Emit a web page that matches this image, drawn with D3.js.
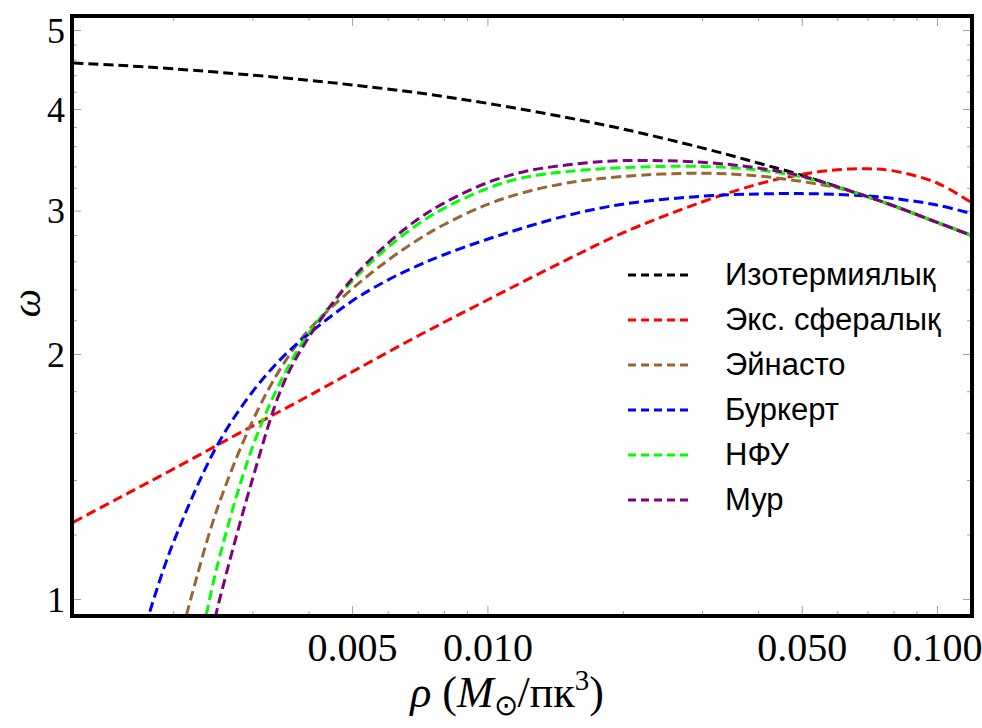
<!DOCTYPE html>
<html>
<head>
<meta charset="utf-8">
<script src="https://cdn.jsdelivr.net/npm/d3@7"></script>
<style>
  body { margin: 0; background: #fff; }
  svg { display: block; }
</style>
</head>
<body>
<div id="chart"></div>
<script>
// Rotation-curve style plot: omega vs rho, log-log, six density profiles

// --- data ---
const rhoIso   = [0.0012, 0.0015, 0.002, 0.003, 0.004, 0.005, 0.007, 0.01, 0.015, 0.02, 0.03, 0.04, 0.05, 0.06, 0.07, 0.08, 0.1, 0.12];
const omegaIso = [4.556, 4.527, 4.481, 4.402, 4.337, 4.281, 4.187, 4.064, 3.904, 3.780, 3.583, 3.433, 3.316, 3.210, 3.121, 3.042, 2.902, 2.793];

const rhoExp   = [0.0012, 0.0015, 0.002, 0.003, 0.004, 0.005, 0.007, 0.01, 0.015, 0.02, 0.03, 0.04, 0.05, 0.06, 0.07, 0.08, 0.1, 0.12];
const omegaExp = [1.243, 1.327, 1.444, 1.631, 1.776, 1.901, 2.104, 2.33, 2.61, 2.817, 3.074, 3.234, 3.324, 3.368, 3.377, 3.357, 3.244, 3.062];

const rhoEin   = [0.0021, 0.0022, 0.0025, 0.003, 0.0035, 0.004, 0.005, 0.006, 0.007, 0.008, 0.01, 0.012, 0.015, 0.02, 0.03, 0.04, 0.05, 0.06, 0.07, 0.08, 0.1, 0.12];
const omegaEin = [0.917, 1.011, 1.286, 1.653, 1.936, 2.139, 2.404, 2.606, 2.762, 2.883, 3.053, 3.156, 3.243, 3.305, 3.335, 3.309, 3.258, 3.200, 3.121, 3.042, 2.902, 2.793];

const rhoBur   = [0.0017, 0.0018, 0.002, 0.0025, 0.003, 0.0035, 0.004, 0.005, 0.006, 0.007, 0.008, 0.01, 0.015, 0.02, 0.03, 0.04, 0.05, 0.06, 0.07, 0.08, 0.1, 0.12];
const omegaBur = [0.889, 0.990, 1.172, 1.541, 1.796, 1.981, 2.116, 2.323, 2.465, 2.568, 2.648, 2.767, 2.958, 3.055, 3.125, 3.145, 3.148, 3.141, 3.127, 3.105, 3.048, 2.972];

const rhoNfw   = [0.0023, 0.0025, 0.003, 0.0035, 0.004, 0.005, 0.006, 0.007, 0.008, 0.01, 0.012, 0.015, 0.02, 0.03, 0.04, 0.05, 0.06, 0.07, 0.08, 0.1, 0.12];
const omegaNfw = [0.880, 1.092, 1.536, 1.869, 2.119, 2.457, 2.703, 2.886, 3.019, 3.195, 3.293, 3.350, 3.388, 3.400, 3.365, 3.300, 3.205, 3.121, 3.042, 2.902, 2.793];

const rhoMoore   = [0.0024, 0.0025, 0.003, 0.0035, 0.004, 0.005, 0.006, 0.007, 0.008, 0.01, 0.012, 0.015, 0.02, 0.03, 0.04, 0.05, 0.06, 0.07, 0.08, 0.1, 0.12];
const omegaMoore = [0.873, 0.967, 1.402, 1.827, 2.094, 2.474, 2.735, 2.928, 3.065, 3.247, 3.347, 3.414, 3.456, 3.440, 3.384, 3.309, 3.210, 3.121, 3.042, 2.902, 2.793];

const seriesNames = ['Изотермиялық', 'Экс. сфералық', 'Эйнасто', 'Буркерт', 'НФУ', 'Мур'];
const seriesColors = ['#000000', '#ff0000', '#996633', '#0000ff', '#00ff00', '#800080'];

const xMajor = [0.005, 0.01, 0.05, 0.1];
const xMinor = [0.002, 0.003, 0.004, 0.006, 0.007, 0.008, 0.009, 0.02, 0.03, 0.04, 0.06, 0.07, 0.08, 0.09];
const yMajor = [1, 2, 3, 4, 5];
const yMinor = [1.2, 1.4, 1.6, 1.8, 2.2, 2.4, 2.6, 2.8, 3.2, 3.4, 3.6, 3.8, 4.2, 4.4, 4.6, 4.8];

const series = [
    { rho: rhoIso, omega: omegaIso },
    { rho: rhoExp, omega: omegaExp },
    { rho: rhoEin, omega: omegaEin },
    { rho: rhoBur, omega: omegaBur },
    { rho: rhoNfw, omega: omegaNfw },
    { rho: rhoMoore, omega: omegaMoore }
].map((s, i) => ({
    name: seriesNames[i],
    color: seriesColors[i],
    points: s.rho.map((r, j) => ({ rho: r, omega: s.omega[j] }))
}));

// --- layout ---
const W = 982, H = 728;
const m = { left: 72, right: 972, top: 16, bottom: 616 };

const x = d3.scaleLog().domain([0.001191, 0.1196]).range([m.left, m.right]);
const y = d3.scaleLog().domain([0.953, 5.203]).range([m.bottom, m.top]);

const svg = d3.select('#chart').append('svg')
    .attr('width', W)
    .attr('height', H);

svg.append('defs').append('clipPath').attr('id', 'plot-clip')
    .append('rect')
    .attr('x', m.left).attr('y', m.top)
    .attr('width', m.right - m.left).attr('height', m.bottom - m.top);

const serif = '"Liberation Serif", "Times New Roman", serif';
const sans = '"Liberation Sans", Arial, sans-serif';

// ticks: inward, gray, mirrored on all four sides
function tickAxis(axis, g) {
    g.call(axis);
    g.select('.domain').remove();
    g.selectAll('.tick line').attr('stroke', '#a0a0a0').attr('stroke-width', 1);
    return g;
}

tickAxis(d3.axisBottom(x).tickValues(xMinor).tickSize(-5).tickFormat(''),
    svg.append('g').attr('transform', `translate(0,${m.bottom})`));
tickAxis(d3.axisTop(x).tickValues(xMinor).tickSize(-5).tickFormat(''),
    svg.append('g').attr('transform', `translate(0,${m.top})`));
tickAxis(d3.axisTop(x).tickValues(xMajor).tickSize(-10).tickFormat(''),
    svg.append('g').attr('transform', `translate(0,${m.top})`));
tickAxis(d3.axisLeft(y).tickValues(yMinor).tickSize(-5).tickFormat(''),
    svg.append('g').attr('transform', `translate(${m.left},0)`));
tickAxis(d3.axisRight(y).tickValues(yMinor).tickSize(-5).tickFormat(''),
    svg.append('g').attr('transform', `translate(${m.right},0)`));
tickAxis(d3.axisRight(y).tickValues(yMajor).tickSize(-9).tickFormat(''),
    svg.append('g').attr('transform', `translate(${m.right},0)`));

const xAxisG = tickAxis(d3.axisBottom(x).tickValues(xMajor).tickSize(-10).tickFormat(d3.format('.3f')),
    svg.append('g').attr('transform', `translate(0,${m.bottom})`));
xAxisG.selectAll('.tick text')
    .attr('y', 45).attr('dy', 0)
    .attr('fill', '#000')
    .style('font-family', serif)
    .style('font-size', '40px');

const yAxisG = tickAxis(d3.axisLeft(y).tickValues(yMajor).tickSize(-9).tickFormat(d3.format('d')),
    svg.append('g').attr('transform', `translate(${m.left},0)`));
yAxisG.selectAll('.tick text')
    .attr('x', -7).attr('dy', '0.34em')
    .attr('fill', '#000')
    .style('font-family', serif)
    .style('font-size', '36px');

// curves
const line = d3.line()
    .x(d => x(d.rho))
    .y(d => y(d.omega))
    .curve(d3.curveCatmullRom.alpha(0.5));

svg.append('g').attr('clip-path', 'url(#plot-clip)')
    .selectAll('path')
    .data(series)
    .join('path')
    .attr('d', d => line(d.points))
    .attr('fill', 'none')
    .attr('stroke', d => d.color)
    .attr('stroke-width', 3)
    .attr('stroke-dasharray', '10,5');

// frame
svg.append('rect')
    .attr('x', m.left).attr('y', m.top)
    .attr('width', m.right - m.left).attr('height', m.bottom - m.top)
    .attr('fill', 'none')
    .attr('stroke', '#000')
    .attr('stroke-width', 4);

// legend
const legend = svg.append('g').attr('transform', 'translate(0,285)');
const row = legend.selectAll('g')
    .data(series)
    .join('g')
    .attr('transform', (d, i) => `translate(0,${i * 45})`);

row.append('line')
    .attr('x1', 628).attr('x2', 692)
    .attr('y1', -10).attr('y2', -10)
    .attr('stroke', d => d.color)
    .attr('stroke-width', 3)
    .attr('stroke-dasharray', '8,5');

row.append('text')
    .attr('x', 725)
    .attr('y', 0)
    .text(d => d.name)
    .style('font-family', sans)
    .style('font-size', '31px')
    .attr('fill', '#000');

// axis titles
const xTitle = svg.append('text')
    .attr('x', 507)
    .attr('y', 707)
    .attr('text-anchor', 'middle')
    .style('font-family', serif)
    .style('font-size', '44px')
    .attr('fill', '#000');
xTitle.append('tspan').style('font-style', 'italic').text('ρ');
xTitle.append('tspan').text(' (');
xTitle.append('tspan').style('font-style', 'italic').text('M');
xTitle.append('tspan').attr('dy', 8).style('font-size', '29px').text('⊙');
xTitle.append('tspan').attr('dy', -8).text('/пк');
xTitle.append('tspan').attr('dy', -17).style('font-size', '29px').text('3');
xTitle.append('tspan').attr('dy', 17).text(')');

svg.append('text')
    .attr('transform', 'translate(40,303) rotate(-90)')
    .attr('text-anchor', 'middle')
    .style('font-family', serif)
    .style('font-style', 'italic')
    .style('font-size', '40px')
    .attr('fill', '#000')
    .text('ω');
</script>
</body>
</html>
